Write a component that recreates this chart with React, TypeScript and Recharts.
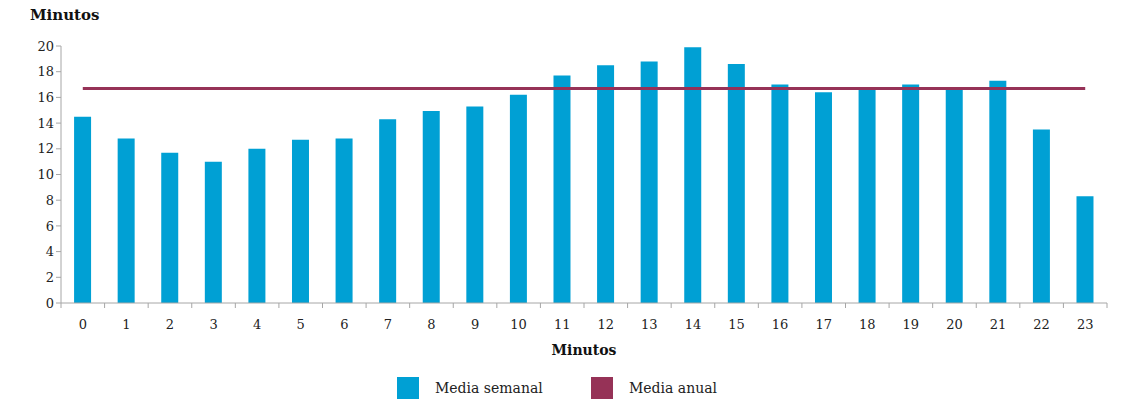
import React from 'react';
import {
  ComposedChart,
  Bar,
  Line,
  XAxis,
  YAxis,
  Legend
} from 'recharts';

const hours: string[] = [
  '0', '1', '2', '3', '4', '5', '6', '7', '8', '9', '10', '11',
  '12', '13', '14', '15', '16', '17', '18', '19', '20', '21', '22', '23'
];

const weeklyAvg: number[] = [
  14.5, 12.8, 11.7, 11.0, 12.0, 12.7, 12.8, 14.3, 14.95, 15.3, 16.2, 17.7,
  18.5, 18.8, 19.9, 18.6, 17.0, 16.4, 16.7, 17.0, 16.7, 17.3, 13.5, 8.3
];

const annualAvg = 16.7;

const yTicks: number[] = [0, 2, 4, 6, 8, 10, 12, 14, 16, 18, 20];

const BAR_COLOR = '#00a0d4';
const LINE_COLOR = '#963257';
const AXIS_COLOR = '#a6a6a6';
const FONT = '"DejaVu Serif", Georgia, serif';

const data = hours.map((h, i) => ({
  hour: h,
  semanal: weeklyAvg[i],
  anual: annualAvg
}));

// x ticks sit between categories, so draw the tick mark half a band to the left
function HourTick(props: any) {
  const { x, y, payload, index } = props;
  const half = payload && payload.offset ? payload.offset : 21.8;
  const last = index === hours.length - 1;
  return (
    <g>
      <line x1={x - half} y1={y - 8} x2={x - half} y2={y - 3} stroke={AXIS_COLOR} />
      {last && (
        <line x1={x + half} y1={y - 8} x2={x + half} y2={y - 3} stroke={AXIS_COLOR} />
      )}
      <text x={x} y={y + 18} textAnchor="middle" fontSize={13} fill="#222" fontFamily={FONT}>
        {payload.value}
      </text>
    </g>
  );
}

function LegendContent() {
  const items = [
    { label: 'Media semanal', color: BAR_COLOR },
    { label: 'Media anual', color: LINE_COLOR }
  ];
  return (
    <div style={{ display: 'flex', fontFamily: FONT, fontSize: 14, color: '#222' }}>
      {items.map((it) => (
        <div key={it.label} style={{ display: 'flex', alignItems: 'center', width: 194 }}>
          <span style={{ width: 22, height: 22, background: it.color, marginRight: 16 }} />
          <span>{it.label}</span>
        </div>
      ))}
    </div>
  );
}

export default function App(): React.ReactElement {
  return (
    <div style={{ position: 'absolute', left: 0, top: 0, width: 1136, height: 405, background: '#fff' }}>
      <div
        style={{
          position: 'absolute',
          left: 30,
          top: 6,
          fontFamily: FONT,
          fontWeight: 'bold',
          fontSize: 15,
          color: '#111'
        }}
      >
        Minutos
      </div>
      <ComposedChart
        width={1136}
        height={405}
        data={data}
        barCategoryGap="30%"
        margin={{ top: 46, right: 29, left: 0, bottom: 24 }}
      >
        <XAxis
          dataKey="hour"
          stroke={AXIS_COLOR}
          tickLine={false}
          tick={<HourTick />}
          height={56}
          interval={0}
          label={{
            value: 'Minutos',
            position: 'insideBottom',
            offset: 4,
            style: { fontFamily: FONT, fontWeight: 'bold', fontSize: 14, fill: '#111' }
          }}
        />
        <YAxis
          domain={[0, 20]}
          ticks={yTicks}
          interval={0}
          width={61}
          stroke={AXIS_COLOR}
          tickSize={5}
          tick={{ fontFamily: FONT, fontSize: 13, fill: '#222' }}
        />
        <Legend
          verticalAlign="bottom"
          content={<LegendContent />}
          wrapperStyle={{ left: 397, top: 377, width: 500 }}
        />
        <Bar dataKey="semanal" name="Media semanal" fill={BAR_COLOR} isAnimationActive={false} />
        <Line
          dataKey="anual"
          name="Media anual"
          type="linear"
          stroke={LINE_COLOR}
          strokeWidth={3}
          dot={false}
          activeDot={false}
          isAnimationActive={false}
        />
      </ComposedChart>
    </div>
  );
}
